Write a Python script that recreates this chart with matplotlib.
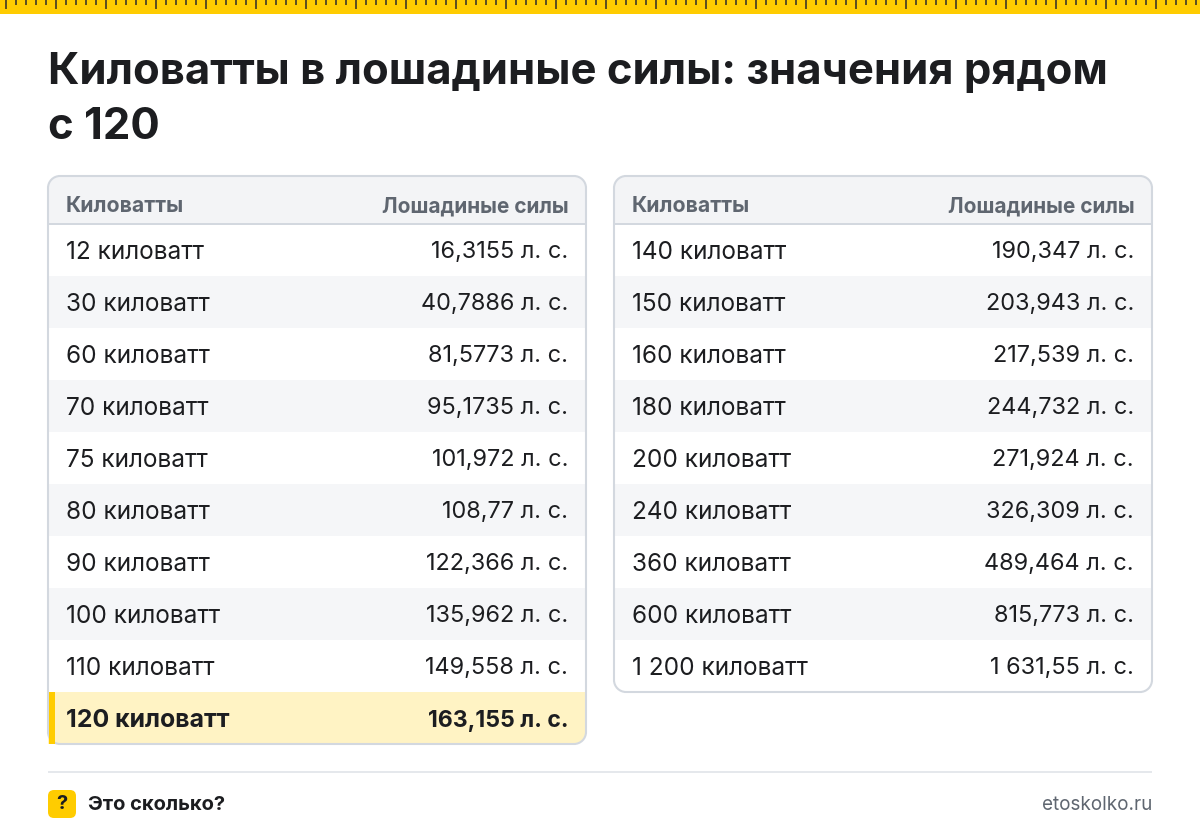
import matplotlib
matplotlib.use("Agg")
import matplotlib.pyplot as plt
from matplotlib.patches import Rectangle, FancyBboxPatch
from matplotlib.path import Path
from matplotlib.patches import PathPatch

plt.rcParams['font.family'] = ['Inter', 'DejaVu Sans']

title_lines = ["Киловатты в лошадиные силы: значения рядом", "с 120"]
header_left = "Киловатты"
header_right = "Лошадиные силы"
left_kw = ["12 киловатт", "30 киловатт", "60 киловатт", "70 киловатт", "75 киловатт",
           "80 киловатт", "90 киловатт", "100 киловатт", "110 киловатт", "120 киловатт"]
left_hp = ["16,3155 л. с.", "40,7886 л. с.", "81,5773 л. с.", "95,1735 л. с.", "101,972 л. с.",
           "108,77 л. с.", "122,366 л. с.", "135,962 л. с.", "149,558 л. с.", "163,155 л. с."]
right_kw = ["140 киловатт", "150 киловатт", "160 киловатт", "180 киловатт", "200 киловатт",
            "240 киловатт", "360 киловатт", "600 киловатт", "1 200 киловатт"]
right_hp = ["190,347 л. с.", "203,943 л. с.", "217,539 л. с.", "244,732 л. с.", "271,924 л. с.",
            "326,309 л. с.", "489,464 л. с.", "815,773 л. с.", "1 631,55 л. с."]
highlight = "120 киловатт"
footer_left = "Это сколько?"
footer_right = "etoskolko.ru"

W, H = 1200, 836
fig = plt.figure(figsize=(W / 100, H / 100), dpi=100, facecolor="white")
ax = fig.add_axes([0, 0, 1, 1])
ax.set_xlim(0, W)
ax.set_ylim(H, 0)
ax.axis("off")

YEL = "#FFCC00"
DARK = "#1C1D20"
GREY = "#5F6670"
BORDER = "#D3D8DF"
STRIPE = "#F5F6F8"
HEAD = "#F3F4F6"

# ruler
ax.add_patch(Rectangle((0, 0), W, 14, fc=YEL, ec="none"))
for i, x in enumerate(range(6, W, 10)):
    ax.add_patch(Rectangle((x - 1, 0), 2, 9 if i % 5 == 0 else 5, fc="#5E5120", ec="none"))

# title
for i, line in enumerate(title_lines):
    ax.text(48, 72.5 + i * 55, line, fontsize=31.4, fontweight="bold", color=DARK, ha="left", va="center")


def rounded_path(x0, y0, x1, y1, tl=0, tr=0, br=0, bl=0):
    k = 0.5523
    v = [(x0 + tl, y0), (x1 - tr, y0), (x1 - tr + k * tr, y0), (x1, y0 + tr - k * tr), (x1, y0 + tr),
         (x1, y1 - br), (x1, y1 - br + k * br), (x1 - br + k * br, y1), (x1 - br, y1),
         (x0 + bl, y1), (x0 + bl - k * bl, y1), (x0, y1 - bl + k * bl), (x0, y1 - bl),
         (x0, y0 + tl), (x0, y0 + tl - k * tl), (x0 + tl - k * tl, y0), (x0 + tl, y0)]
    c = [Path.MOVETO, Path.LINETO, Path.CURVE4, Path.CURVE4, Path.CURVE4,
         Path.LINETO, Path.CURVE4, Path.CURVE4, Path.CURVE4,
         Path.LINETO, Path.CURVE4, Path.CURVE4, Path.CURVE4,
         Path.LINETO, Path.CURVE4, Path.CURVE4, Path.CURVE4]
    return Path(v, c)


def table(x0, x1, kw, hp):
    top, head_h, row_h = 176, 48, 52
    body = top + head_h
    bottom = body + row_h * len(kw)
    R = 12
    ax.add_patch(PathPatch(rounded_path(x0, top, x1, bottom, R, R, R, R), fc="white", ec="none", zorder=1))
    ax.add_patch(PathPatch(rounded_path(x0, top, x1, body, R, R, 0, 0), fc=HEAD, ec="none", zorder=1))
    ax.add_patch(Rectangle((x0, body - 1), x1 - x0, 2, fc=BORDER, ec="none", zorder=2))
    ax.text(x0 + 18, 206, header_left, fontsize=15.3, fontweight="bold", color=GREY, va="center", zorder=5)
    ax.text(x1 - 17.5, 206, header_right, fontsize=15.0, fontweight="bold", color=GREY, va="center", ha="right", zorder=5)
    for i, (k, h) in enumerate(zip(kw, hp)):
        y = body + i * row_h
        hl = k == highlight
        if hl:
            ax.add_patch(PathPatch(rounded_path(x0, y, x1, y + row_h, 0, 0, R, 0), fc="#FFF3C4", ec="none", zorder=2))
        elif i % 2 == 1:
            ax.add_patch(Rectangle((x0, y), x1 - x0, row_h, fc=STRIPE, ec="none", zorder=2))
        w = "bold" if hl else "normal"
        ax.text(x0 + 18, y + row_h / 2 + 2.5, k, fontsize=17.9 if hl else 17.55, fontweight=w, color=DARK, va="center", zorder=5)
        ax.text(x1 - 18, y + row_h / 2 + 2.5, h, fontsize=16.6 if hl else 16.9, fontweight=w, color=DARK, va="center", ha="right", zorder=5)
        if hl:
            ax.add_patch(Rectangle((x0 + 1, y), 6, row_h, fc=YEL, ec="none", zorder=6))
    ax.add_patch(PathPatch(rounded_path(x0, top, x1, bottom, R, R, R, R), fc="none", ec=BORDER, lw=1.5, zorder=4))


table(48, 586, left_kw, left_hp)
table(614, 1152, right_kw, right_hp)

# footer
ax.add_patch(Rectangle((48, 771), 1104, 2, fc="#E5E8EC", ec="none"))
ax.add_patch(FancyBboxPatch((52, 794), 20, 20, boxstyle="round,pad=4,rounding_size=6", fc=YEL, ec="none"))
ax.text(62, 804, "?", fontsize=14.5, fontweight="bold", color=DARK, ha="center", va="center")
ax.text(88, 805, footer_left, fontsize=14.5, fontweight="bold", color=DARK, va="center")
ax.text(1152, 805, footer_right, fontsize=13.6, color=GREY, va="center", ha="right")

fig.savefig("out.png", dpi=100, facecolor="white")
